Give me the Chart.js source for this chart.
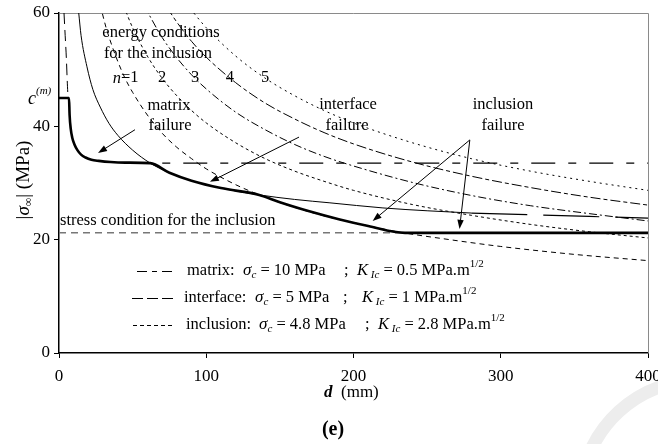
<!DOCTYPE html>
<html>
<head>
<meta charset="utf-8">
<script src="https://cdn.jsdelivr.net/npm/chart.js@4.4.1/dist/chart.umd.min.js"></script>
<style>
  body { margin: 0; background: #fff; }
  canvas { display: block; }
</style>
</head>
<body>
<canvas id="chart" width="658" height="444"></canvas>
<script>
// thick line: failure envelope (min of the three failure modes)
var envelopeD   = [0, 6.8, 7.2, 8, 9, 10.5, 12.5, 15, 18, 22, 27, 35, 45, 62, 75, 90, 110, 136, 150, 170, 190, 210, 235, 400];
var envelopeSig = [45, 45, 42, 39.5, 38, 36.8, 35.8, 35, 34.5, 34.1, 33.9, 33.7, 33.6, 33.5, 31.8, 30.4, 29.1, 27.9, 26.6, 25, 23.6, 22.4, 21.2, 21.2];

// matrix: energy condition (near the axis) and stress condition
var matrixEnergyD   = [3.4, 4.2, 5, 5.6, 6.1, 6.8];
var matrixEnergySig = [60, 56, 52, 48, 45.5, 45];
var matrixStressD   = [45, 400];
var matrixStressSig = [33.5, 33.5];

// interface
var interfaceD   = [13.4, 15, 19, 23, 28, 34, 40, 50, 62, 75, 90, 110, 136, 160, 184, 220, 250, 280];
var interfaceSig = [60, 56, 50.5, 46.5, 43.4, 40.5, 38.4, 35.8, 33.5, 31.8, 30.4, 29.1, 27.9, 27.1, 26.5, 25.6, 25.1, 24.7];
var interfaceTailD   = [280, 320, 360, 400];
var interfaceTailSig = [24.7, 24.4, 24.1, 23.8];

// inclusion: stress condition and energy conditions n = 1..5
var inclStressD   = [0, 400];
var inclStressSig = [21.2, 21.2];
var n1D   = [28, 32, 36, 40, 45, 50, 60, 70, 80, 90, 100, 120, 140, 160, 180, 200, 232, 260, 300, 350, 400];
var n1Sig = [61.4, 57.4, 54.2, 51.4, 48.4, 46, 42, 38.8, 36.3, 34.3, 32.5, 29.7, 27.5, 25.7, 24.2, 23, 21.3, 20.2, 18.8, 17.4, 16.3];
var n2D   = [44, 50, 60, 70, 80, 90, 100, 120, 140, 160, 180, 200, 240, 280, 320, 360, 400];
var n2Sig = [61.2, 57.4, 52.4, 48.5, 45.4, 42.8, 40.6, 37.1, 34.3, 32.1, 30.3, 28.7, 26.2, 24.3, 22.7, 21.4, 20.3];
var n3D   = [58, 70, 80, 90, 100, 120, 140, 160, 180, 200, 240, 280, 320, 360, 400];
var n3Sig = [61.2, 55.7, 52.1, 49.1, 46.6, 42.5, 39.4, 36.8, 34.7, 33, 30.1, 27.8, 26, 24.6, 23.3];
var n4D   = [73, 80, 90, 100, 120, 140, 160, 180, 200, 240, 280, 320, 360, 400];
var n4Sig = [61.1, 58.4, 55, 52.2, 47.7, 44.1, 41.3, 38.9, 36.9, 33.7, 31.2, 29.2, 27.5, 26.1];
var n5D   = [89, 100, 120, 140, 160, 180, 200, 240, 280, 320, 360, 400];
var n5Sig = [60.8, 57.4, 52.4, 48.5, 45.4, 42.8, 40.6, 37.1, 34.3, 32.1, 30.3, 28.7];

var xTicks = [0, 100, 200, 300, 400];
var yTicks = [0, 20, 40, 60];
var cm = 45; // c^(m)

// arrows [d0, s0, d1, s1] (tail -> head)
var arrows = [
  [51.6, 39.4, 26.5, 35.3],
  [163, 38.1, 102.5, 30.2],
  [279, 37.6, 213, 23.3],
  [279, 37.6, 272, 21.9]
];

var SERIF = '"Liberation Serif", "Times New Roman", serif';

function pts(xs, ys) {
  return xs.map(function (x, i) { return { x: x, y: ys[i] }; });
}

function line(xs, ys, width, dash, color) {
  return {
    data: pts(xs, ys),
    borderColor: color || '#000',
    borderWidth: width,
    borderDash: dash || [],
    pointRadius: 0,
    fill: false,
    cubicInterpolationMode: 'monotone'
  };
}

// draws a run of differently styled text pieces starting at x
function rich(ctx, x, y, parts) {
  parts.forEach(function (p) {
    ctx.font = p[1];
    ctx.fillText(p[0], x, y + (p[2] || 0));
    x += ctx.measureText(p[0]).width;
  });
  return x;
}
function richWidth(ctx, parts) {
  var w = 0;
  parts.forEach(function (p) { ctx.font = p[1]; w += ctx.measureText(p[0]).width; });
  return w;
}

function f(size, style) { return (style ? style + ' ' : '') + size + 'px ' + SERIF; }

var extras = {
  id: 'extras',
  beforeDraw: function (chart) {
    var ctx = chart.ctx;
    ctx.save();
    ctx.strokeStyle = '#ededed';
    ctx.lineWidth = 13;
    ctx.beginPath();
    ctx.arc(700, 500, 120, 200 * Math.PI / 180, 255 * Math.PI / 180);
    ctx.stroke();
    ctx.restore();
  },
  beforeDatasetsDraw: function (chart) {
    var ctx = chart.ctx, a = chart.chartArea;
    ctx.save();
    ctx.strokeStyle = '#8a8a8a';
    ctx.lineWidth = 1;
    ctx.beginPath();
    ctx.moveTo(a.left, a.top + 0.5);
    ctx.lineTo(a.right + 0.5, a.top + 0.5);
    ctx.lineTo(a.right + 0.5, a.bottom);
    ctx.stroke();
    ctx.restore();
  },
  afterDraw: function (chart) {
    var ctx = chart.ctx, xs = chart.scales.x, ys = chart.scales.y;
    var px = function (d) { return xs.getPixelForValue(d); };
    var py = function (s) { return ys.getPixelForValue(s); };
    ctx.save();
    ctx.fillStyle = '#000';
    ctx.strokeStyle = '#000';

    // arrows
    ctx.lineWidth = 1;
    arrows.forEach(function (ar) {
      var x1 = px(ar[0]), y1 = py(ar[1]), x2 = px(ar[2]), y2 = py(ar[3]);
      var ang = Math.atan2(y2 - y1, x2 - x1), L = 9, W = 3.2;
      ctx.beginPath();
      ctx.moveTo(x1, y1);
      ctx.lineTo(x2 - Math.cos(ang) * L * 0.8, y2 - Math.sin(ang) * L * 0.8);
      ctx.stroke();
      ctx.beginPath();
      ctx.moveTo(x2, y2);
      ctx.lineTo(x2 - Math.cos(ang) * L - Math.sin(ang) * W, y2 - Math.sin(ang) * L + Math.cos(ang) * W);
      ctx.lineTo(x2 - Math.cos(ang) * L + Math.sin(ang) * W, y2 - Math.sin(ang) * L - Math.cos(ang) * W);
      ctx.closePath();
      ctx.fill();
    });

    // annotations inside the plot
    ctx.textBaseline = 'middle';
    ctx.textAlign = 'center';
    ctx.font = f(16.5);
    ctx.fillText('energy conditions', px(69.3), py(56.5));
    ctx.fillText('for the inclusion', px(67.2), py(52.9));
    ctx.fillText('matrix', px(74.7), py(43.6));
    ctx.fillText('failure', px(75.4), py(40.2));
    ctx.fillText('interface', px(196.3), py(43.8));
    ctx.fillText('failure', px(195.6), py(40.2));
    ctx.fillText('inclusion', px(301.5), py(43.8));
    ctx.fillText('failure', px(301.5), py(40.2));
    ctx.fillText('2', px(70), py(48.5));
    ctx.fillText('3', px(92.4), py(48.5));
    ctx.fillText('4', px(116.1), py(48.5));
    ctx.fillText('5', px(139.9), py(48.5));
    ctx.textAlign = 'left';
    var nParts = [['n', f(16.5, 'italic')], ['=1', f(16.5)]];
    rich(ctx, px(45.2) - richWidth(ctx, nParts) / 2, py(48.5), nParts);
    ctx.font = f(16.5);
    ctx.fillText('stress condition for the inclusion', px(0.7), py(23.3));

    // c^(m) next to the y axis
    rich(ctx, 28, py(cm) + 1, [['c', f(18, 'italic')], ['(m)', f(11, 'italic'), -8]]);

    // legend block
    var rows = [
      { y: 271, icon: [137, 175], dash: [10, 5, 5, 5], x: [187, 243, 344, 357], name: 'matrix:', sc: '= 10 MPa', k: '= 0.5 MPa.m' },
      { y: 298, icon: [132, 173], dash: [11, 4],       x: [184, 255, 343, 362], name: 'interface:', sc: '= 5 MPa', k: '= 1 MPa.m' },
      { y: 325, icon: [133, 173], dash: [4, 3],        x: [186, 259, 365, 378], name: 'inclusion:', sc: '= 4.8 MPa', k: '= 2.8 MPa.m' }
    ];
    rows.forEach(function (r) {
      ctx.save();
      ctx.lineWidth = 1;
      ctx.setLineDash(r.dash);
      ctx.beginPath();
      ctx.moveTo(r.icon[0], r.y + 0.5);
      ctx.lineTo(r.icon[1], r.y + 0.5);
      ctx.stroke();
      ctx.restore();
      ctx.font = f(16.5);
      ctx.fillText(r.name, r.x[0], r.y);
      rich(ctx, r.x[1], r.y, [['σ', f(17, 'italic')], ['c', f(11, 'italic'), 4], [' ' + r.sc, f(16.5)]]);
      ctx.font = f(16.5);
      ctx.fillText(';', r.x[2], r.y);
      rich(ctx, r.x[3], r.y, [['K', f(16.5, 'italic')], [' Ic', f(11, 'italic'), 4], [' ' + r.k, f(16.5)], ['1/2', f(11), -7]]);
    });

    // axis titles
    ctx.save();
    ctx.translate(24, 180);
    ctx.rotate(-Math.PI / 2);
    var yt = [['|', f(19)], ['σ', f(19, 'italic')], ['∞', f(12), 5], ['| (MPa)', f(19)]];
    rich(ctx, -richWidth(ctx, yt) / 2, 0, yt);
    ctx.restore();

    rich(ctx, 324, 393, [['d', f(17, 'bold italic')], ['  (mm)', f(17)]]);
    ctx.textAlign = 'center';
    ctx.font = f(20, 'bold');
    ctx.fillText('(e)', 333, 430);

    ctx.restore();
  }
};

new Chart(document.getElementById('chart'), {
  type: 'line',
  data: {
    datasets: [
      line(envelopeD, envelopeSig, 2.6),
      line(matrixEnergyD, matrixEnergySig, 1, [11, 6]),
      line(matrixStressD, matrixStressSig, 1.2, [24, 13, 8, 13]),
      line(interfaceD, interfaceSig, 1),
      line(interfaceTailD, interfaceTailSig, 1.2, [56, 16]),
      line(inclStressD, inclStressSig, 1.5, [7, 5], '#777'),
      line(n1D, n1Sig, 1, [5, 4]),
      line(n2D, n2Sig, 1, [3, 3]),
      line(n3D, n3Sig, 1, [8, 3, 2, 3]),
      line(n4D, n4Sig, 1, [10, 3, 4, 3]),
      line(n5D, n5Sig, 1, [2, 4])
    ]
  },
  options: {
    responsive: false,
    animation: false,
    layout: { padding: { top: 13, right: 10, left: 0, bottom: 0 } },
    plugins: { legend: { display: false }, tooltip: { enabled: false } },
    scales: {
      x: {
        type: 'linear',
        min: 0,
        max: 400,
        afterBuildTicks: function (s) { s.ticks = xTicks.map(function (v) { return { value: v }; }); },
        ticks: { color: '#000', font: { family: SERIF, size: 17 }, padding: 8, maxRotation: 0 },
        grid: { drawOnChartArea: false, tickLength: 5, tickColor: '#000', color: '#000' },
        border: { color: '#000', width: 1.5 },
        afterFit: function (s) { s.height = 91; s.paddingLeft = 0; s.paddingRight = 0; }
      },
      y: {
        min: 0,
        max: 60,
        afterBuildTicks: function (s) { s.ticks = yTicks.map(function (v) { return { value: v }; }); },
        ticks: { color: '#000', font: { family: SERIF, size: 17 }, padding: 4 },
        grid: { drawOnChartArea: false, tickLength: 5, tickColor: '#000', color: '#000' },
        border: { color: '#000', width: 1.5 },
        afterFit: function (s) { s.width = 59; s.paddingTop = 0; s.paddingBottom = 0; }
      }
    }
  },
  plugins: [extras]
});
</script>
</body>
</html>
